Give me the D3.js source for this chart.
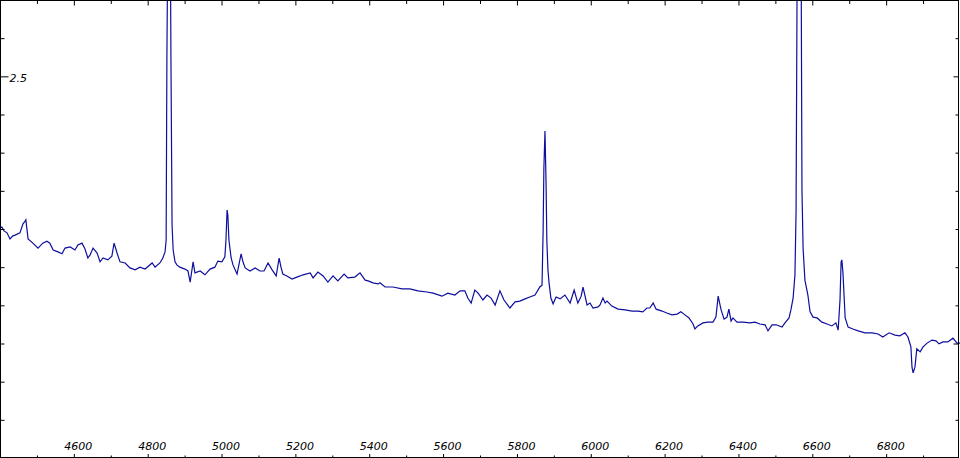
<!DOCTYPE html>
<html>
<head>
<meta charset="utf-8">
<script src="https://cdn.jsdelivr.net/npm/d3@7"></script>
<style>
  html, body { margin: 0; padding: 0; background: #fff; }
  svg { display: block; }
  text { font-family: "DejaVu Sans", sans-serif; font-style: italic; font-size: 11px; fill: #000; }
</style>
</head>
<body>
<div id="chart"></div>
<script>
// Wavelength (Å)
const wavelength = [
4400,4405,4411,4419,4427,4435,4441,4454,4462,4468,4470,4476,4489,4503,4516,4527,4535,4544,4557,4568,
4576,4590,4603,4611,4622,4630,4638,4644,4652,4663,4671,4679,4692,4703,4709,4717,4725,4739,4752,4766,
4779,4793,4812,4820,4833,4841,4847,4850,4852,4858.5,4863,4866,4869,4874,4879,4887,4901,4909,4915,4923,
4928,4942,4955,4969,4982,4990,5001,5009,5012,5015,5017,5020,5026,5031,5042,5047,5053,5058,5064,5077,
5091,5104,5115,5126,5137,5148,5156,5161,5166,5177,5191,5204,5221,5240,5248,5261,5275,5288,5302,5315,
5332,5342,5361,5375,5389,5397,5410,5424,5429,5443,5464,5489,5510,5532,5556,5573,5597,5613,5632,5646,
5659,5667,5676,5686,5695,5708,5719,5730,5741,5754,5765,5781,5795,5808,5822,5835,5849,5862,5868,5871,
5873,5876,5879,5881,5884,5887,5892,5898,5906,5917,5930,5944,5955,5965,5974,5979,5990,5998,6006,6020,
6025,6033,6039,6044,6057,6074,6093,6112,6128,6141,6152,6160,6169,6177,6193,6206,6220,6234,6244,6255,
6266,6277,6282,6290,6304,6317,6331,6339,6345,6353,6361,6369,6374,6380,6385,6396,6412,6431,6445,6458,
6472,6480,6491,6502,6518,6526,6537,6542,6548,6553,6556,6565,6572,6575,6580,6588,6594,6602,6613,6626,
6640,6653,6664,6670,6675,6678,6680,6683,6689,6697,6710,6724,6743,6762,6778,6791,6808,6824,6837,6851,
6859,6867,6870,6873,6878,6883,6892,6900,6911,6924,6935,6943,6954,6967,6981,6992,7000
];
// Flux
const flux = [
2.103,2.105,2.095,2.090,2.074,2.082,2.084,2.090,2.113,2.121,2.124,2.074,2.063,2.050,2.063,2.068,2.063,2.045,2.040,2.035,
2.050,2.053,2.045,2.058,2.063,2.048,2.024,2.032,2.050,2.037,2.014,2.024,2.019,2.029,2.063,2.037,2.014,2.011,1.998,1.993,
2.000,1.995,2.011,2.000,2.011,2.024,2.040,2.071,2.543,3.400,2.543,2.110,2.045,2.014,2.006,2.000,1.995,1.990,1.961,2.014,
1.985,1.990,1.980,1.995,2.000,2.016,2.014,2.027,2.071,2.150,2.137,2.071,2.024,2.006,1.982,2.006,2.035,2.014,1.998,1.990,
1.998,1.990,1.990,2.011,1.993,1.977,2.024,2.000,1.982,1.977,1.969,1.974,1.980,1.985,1.972,1.987,1.977,1.961,1.977,1.964,
1.982,1.972,1.974,1.985,1.966,1.964,1.959,1.956,1.959,1.948,1.948,1.943,1.943,1.938,1.935,1.932,1.924,1.932,1.927,1.938,
1.938,1.919,1.906,1.940,1.932,1.914,1.927,1.919,1.901,1.938,1.914,1.893,1.909,1.911,1.917,1.922,1.927,1.948,1.953,2.097,
2.260,2.357,2.215,2.071,1.993,1.959,1.919,1.904,1.922,1.917,1.927,1.906,1.940,1.906,1.924,1.948,1.901,1.906,1.893,1.896,
1.901,1.919,1.906,1.911,1.898,1.890,1.888,1.885,1.885,1.883,1.893,1.893,1.906,1.890,1.885,1.880,1.875,1.877,1.883,1.875,
1.867,1.851,1.838,1.846,1.854,1.856,1.856,1.869,1.924,1.888,1.864,1.869,1.890,1.859,1.867,1.856,1.856,1.854,1.856,1.851,
1.849,1.833,1.849,1.849,1.843,1.854,1.867,1.888,1.919,1.980,2.145,4.089,2.202,2.050,1.966,1.927,1.883,1.869,1.867,1.856,
1.851,1.846,1.854,1.835,1.914,2.014,2.019,1.985,1.867,1.843,1.838,1.833,1.828,1.828,1.825,1.817,1.828,1.822,1.820,1.828,
1.817,1.791,1.738,1.723,1.738,1.786,1.778,1.791,1.801,1.809,1.807,1.799,1.804,1.804,1.814,1.801,1.801
];

const xDomain = [4400, 7000];
const yDomain = [1.5, 2.7];
const xMajorTicks = [4600, 4800, 5000, 5200, 5400, 5600, 5800, 6000, 6200, 6400, 6600, 6800];
const xTickLabels = ["4600", "4800", "5000", "5200", "5400", "5600", "5800", "6000", "6200", "6400", "6600", "6800"];
const xMinorTicks = [4500, 4700, 4900, 5100, 5300, 5500, 5700, 5900, 6100, 6300, 6500, 6700, 6900];
const yMinorTicks = [1.6, 1.7, 1.8, 1.9, 2.0, 2.1, 2.2, 2.3, 2.4, 2.6];
const yLabelTicks = [2.5];
const yTickLabels = ["2.5"];
const yRightMajorTicks = [2.5, 1.8];

const W = 960, H = 458;
const svg = d3.select("#chart").append("svg").attr("width", W).attr("height", H);
svg.append("rect").attr("width", W).attr("height", H).attr("fill", "#fff");

const x = d3.scaleLinear().domain(xDomain).range([0, W]);
const y = d3.scaleLinear().domain(yDomain).range([H, 0]);

svg.append("clipPath").attr("id", "clip").append("rect")
  .attr("x", 0).attr("y", 0).attr("width", W).attr("height", H);

const data = wavelength.map((w, i) => [w, flux[i]]);
const line = d3.line().x(d => x(d[0])).y(d => y(d[1]));
svg.append("path").datum(data)
  .attr("clip-path", "url(#clip)")
  .attr("fill", "none")
  .attr("stroke", "#0e0e9e")
  .attr("stroke-width", 1.2)
  .attr("stroke-linejoin", "miter")
  .attr("d", line);

function styleAxis(g) {
  g.select(".domain").remove();
  g.selectAll(".tick line").attr("stroke", "#000").attr("stroke-width", 1);
}

// bottom axis (ticks inward)
svg.append("g").attr("transform", `translate(0,${H - 0.5})`)
  .call(d3.axisBottom(x).tickValues(xMinorTicks).tickSize(-2).tickFormat(""))
  .call(styleAxis);
const bottom = svg.append("g").attr("transform", `translate(0,${H - 0.5})`)
  .call(d3.axisBottom(x).tickValues(xMajorTicks).tickSize(-3.5)
    .tickFormat((d, i) => xTickLabels[i]))
  .call(styleAxis);
bottom.selectAll(".tick text")
  .attr("y", -8).attr("dy", 0).attr("x", 4)
  .attr("text-anchor", "middle")
  .style("font-family", "'DejaVu Sans', sans-serif")
  .style("font-style", "italic")
  .style("font-size", "11px")
  .attr("fill", "#000");

// top axis
svg.append("g").attr("transform", "translate(0,0.5)")
  .call(d3.axisTop(x).tickValues(xMinorTicks).tickSize(-3.5).tickFormat(""))
  .call(styleAxis);
svg.append("g").attr("transform", "translate(0,0.5)")
  .call(d3.axisTop(x).tickValues(xMajorTicks).tickSize(-5).tickFormat(""))
  .call(styleAxis);

// left axis
svg.append("g").attr("transform", "translate(0.5,0)")
  .call(d3.axisLeft(y).tickValues(yMinorTicks).tickSize(-4).tickFormat(""))
  .call(styleAxis);
const left = svg.append("g").attr("transform", "translate(0.5,0)")
  .call(d3.axisLeft(y).tickValues(yLabelTicks).tickSize(-8)
    .tickFormat((d, i) => yTickLabels[i]))
  .call(styleAxis);
left.selectAll(".tick text")
  .attr("x", 9).attr("dy", "0.35em").attr("y", 1)
  .attr("text-anchor", "start")
  .style("font-family", "'DejaVu Sans', sans-serif")
  .style("font-style", "italic")
  .style("font-size", "11px")
  .attr("fill", "#000");

// right axis
svg.append("g").attr("transform", `translate(${W - 1.5},0)`)
  .call(d3.axisRight(y).tickValues(yMinorTicks.filter(v => v !== 1.8)).tickSize(-3).tickFormat(""))
  .call(styleAxis);
svg.append("g").attr("transform", `translate(${W - 1.5},0)`)
  .call(d3.axisRight(y).tickValues(yRightMajorTicks).tickSize(-5).tickFormat(""))
  .call(styleAxis);

// frame
svg.append("rect")
  .attr("x", 0.5).attr("y", 0.5).attr("width", W - 2).attr("height", H - 1)
  .attr("fill", "none").attr("stroke", "#000").attr("stroke-width", 1);
</script>
</body>
</html>
